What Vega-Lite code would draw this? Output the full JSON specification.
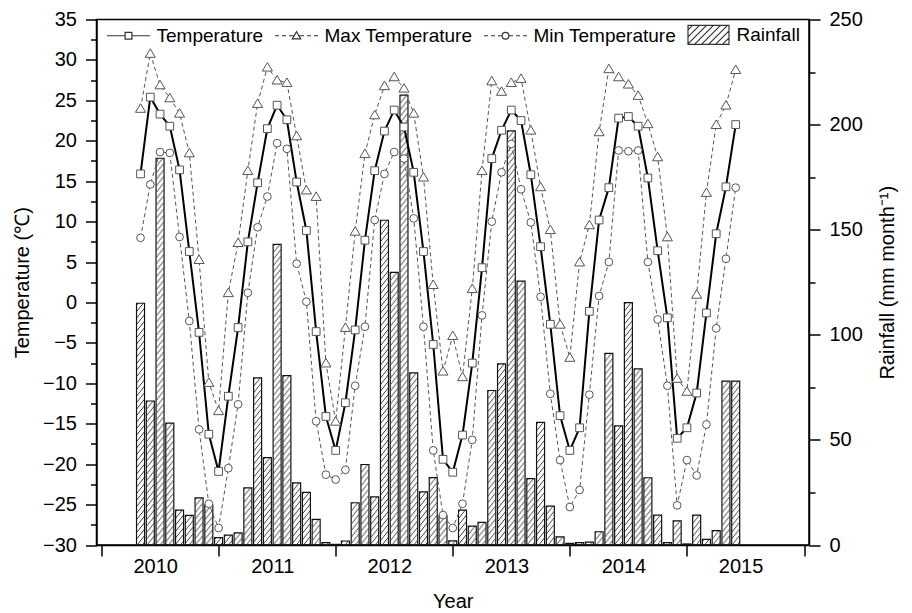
{
  "$schema": "https://vega.github.io/schema/vega-lite/v6.json",
  "width": 712.5,
  "height": 525.5,
  "autosize": "none",
  "padding": {"left": 96.5, "top": 19.5, "right": 103, "bottom": 68},
  "background": "white",
  "config": {
    "view": {"stroke": "#000", "strokeWidth": 1.5},
    "font": "Liberation Sans",
    "axis": {
      "domainColor": "#000", "domainWidth": 1.5,
      "tickColor": "#000", "tickWidth": 1.5,
      "labelFont": "Liberation Sans", "labelFontSize": 20, "labelColor": "#000",
      "titleFont": "Liberation Sans", "titleFontSize": 20, "titleFontWeight": "normal", "titleColor": "#000",
      "grid": false, "labelOverlap": false, "labelFlush": false, "labelBound": false
    }
  },
  "data": {"values": [
    {"m":4,"T":15.9,"Tmax":24.0,"Tmin":8.0,"R":115},
    {"m":5,"T":25.4,"Tmax":30.8,"Tmin":14.6,"R":68.5},
    {"m":6,"T":23.3,"Tmax":26.9,"Tmin":18.6,"R":184},
    {"m":7,"T":21.8,"Tmax":25.3,"Tmin":18.5,"R":58},
    {"m":8,"T":16.4,"Tmax":23.4,"Tmin":8.1,"R":16.6},
    {"m":9,"T":6.3,"Tmax":18.5,"Tmin":-2.3,"R":14.1},
    {"m":10,"T":-3.7,"Tmax":5.3,"Tmin":-15.7,"R":22.4},
    {"m":11,"T":-16.3,"Tmax":-9.9,"Tmin":-24.9,"R":19.0},
    {"m":12,"T":-20.9,"Tmax":-13.4,"Tmin":-27.9,"R":3.5},
    {"m":13,"T":-11.6,"Tmax":1.2,"Tmin":-20.5,"R":4.7},
    {"m":14,"T":-3.1,"Tmax":7.4,"Tmin":-12.6,"R":5.8},
    {"m":15,"T":7.5,"Tmax":16.3,"Tmin":1.2,"R":27.2},
    {"m":16,"T":14.8,"Tmax":24.6,"Tmin":9.3,"R":79.5},
    {"m":17,"T":21.5,"Tmax":29.1,"Tmin":13.1,"R":41.6},
    {"m":18,"T":24.4,"Tmax":27.5,"Tmin":19.7,"R":143},
    {"m":19,"T":22.6,"Tmax":27.2,"Tmin":19.0,"R":80.6},
    {"m":20,"T":14.9,"Tmax":20.6,"Tmin":4.8,"R":29.6},
    {"m":21,"T":8.9,"Tmax":13.9,"Tmin":0.1,"R":25.0},
    {"m":22,"T":-3.6,"Tmax":13.1,"Tmin":-14.7,"R":12.2},
    {"m":23,"T":-14.1,"Tmax":-7.5,"Tmin":-21.3,"R":1.1},
    {"m":24,"T":-18.3,"Tmax":-14.7,"Tmin":-21.9,"R":0.3},
    {"m":25,"T":-12.4,"Tmax":-3.1,"Tmin":-20.7,"R":1.9},
    {"m":26,"T":-3.4,"Tmax":8.8,"Tmin":-10.3,"R":20.1},
    {"m":27,"T":7.7,"Tmax":18.4,"Tmin":-3.0,"R":38.3},
    {"m":28,"T":16.3,"Tmax":23.2,"Tmin":10.2,"R":22.9},
    {"m":29,"T":21.2,"Tmax":26.8,"Tmin":15.9,"R":154.5},
    {"m":30,"T":23.8,"Tmax":27.9,"Tmin":18.6,"R":129.7},
    {"m":31,"T":21.7,"Tmax":26.5,"Tmin":17.8,"R":214},
    {"m":32,"T":16.1,"Tmax":23.4,"Tmin":10.4,"R":81.9},
    {"m":33,"T":6.3,"Tmax":15.5,"Tmin":-3.0,"R":25.3},
    {"m":34,"T":-5.2,"Tmax":2.2,"Tmin":-18.3,"R":32.1},
    {"m":35,"T":-19.4,"Tmax":-8.5,"Tmin":-26.3,"R":13.9},
    {"m":36,"T":-21.0,"Tmax":-4.1,"Tmin":-27.9,"R":2.0},
    {"m":37,"T":-16.4,"Tmax":-9.2,"Tmin":-24.9,"R":16.6},
    {"m":38,"T":-7.5,"Tmax":1.7,"Tmin":-17.0,"R":9.0},
    {"m":39,"T":4.3,"Tmax":16.3,"Tmin":-1.6,"R":10.8},
    {"m":40,"T":17.8,"Tmax":27.4,"Tmin":10.0,"R":73.5},
    {"m":41,"T":21.3,"Tmax":26.1,"Tmin":16.1,"R":86.2},
    {"m":42,"T":23.8,"Tmax":27.2,"Tmin":19.6,"R":197},
    {"m":43,"T":22.5,"Tmax":27.7,"Tmin":14.0,"R":125.5},
    {"m":44,"T":15.8,"Tmax":21.3,"Tmin":9.9,"R":31.6},
    {"m":45,"T":6.9,"Tmax":14.3,"Tmin":0.7,"R":58.3},
    {"m":46,"T":-2.7,"Tmax":9.0,"Tmin":-11.3,"R":18.5},
    {"m":47,"T":-14.0,"Tmax":-2.7,"Tmin":-19.5,"R":3.9},
    {"m":48,"T":-18.3,"Tmax":-6.8,"Tmin":-25.3,"R":0.8},
    {"m":49,"T":-15.5,"Tmax":5.0,"Tmin":-23.2,"R":1.1},
    {"m":50,"T":-1.1,"Tmax":9.6,"Tmin":-11.4,"R":1.4},
    {"m":51,"T":10.2,"Tmax":21.1,"Tmin":0.8,"R":6.3},
    {"m":52,"T":14.2,"Tmax":28.9,"Tmin":5.0,"R":91.2},
    {"m":53,"T":22.8,"Tmax":27.9,"Tmin":18.8,"R":56.7},
    {"m":54,"T":23.0,"Tmax":27.0,"Tmin":18.7,"R":115.3},
    {"m":55,"T":21.8,"Tmax":25.6,"Tmin":18.8,"R":83.8},
    {"m":56,"T":15.4,"Tmax":22.1,"Tmin":5.0,"R":32},
    {"m":57,"T":6.4,"Tmax":18.0,"Tmin":-2.1,"R":14.2},
    {"m":58,"T":-1.9,"Tmax":8.1,"Tmin":-10.3,"R":1.1},
    {"m":59,"T":-16.8,"Tmax":-9.4,"Tmin":-25.1,"R":11.5},
    {"m":60,"T":-15.5,"Tmax":-11.0,"Tmin":-19.5,"R":0.5},
    {"m":61,"T":-11.2,"Tmax":1.0,"Tmin":-21.4,"R":14.2},
    {"m":62,"T":-1.3,"Tmax":13.6,"Tmin":-15.1,"R":2.7},
    {"m":63,"T":8.5,"Tmax":22.0,"Tmin":-3.2,"R":6.8},
    {"m":64,"T":14.3,"Tmax":24.4,"Tmin":5.4,"R":78},
    {"m":65,"T":22.0,"Tmax":28.8,"Tmin":14.2,"R":78}
  ]},
  "encoding": {
    "x": {
      "field": "m", "type": "quantitative",
      "scale": {"domain": [0, 72], "nice": false, "zero": false},
      "axis": {
        "title": "Year",
        "values": [0, 5.5, 12, 17.5, 24, 29.5, 36, 41.5, 48, 53.5, 60, 65.5, 72],
        "labelExpr": "datum.value % 12 == 5.5 ? toString(2010 + floor(datum.value / 12)) : ''",
        "tickOpacity": {"condition": {"test": "datum.value % 12 == 0", "value": 1}, "value": 0},
        "tickSize": 11,
        "labelPadding": 0,
        "titleX": 356.25, "titleY": 56, "titleBaseline": "middle", "titleAlign": "center"
      }
    }
  },
  "layer": [
    {
      "encoding": {
        "y": {
          "field": "R", "type": "quantitative",
          "scale": {"domain": [0, 250], "nice": false},
          "axis": {
            "orient": "right",
            "title": "Rainfall (mm month⁻¹)",
            "values": [0, 25, 50, 75, 100, 125, 150, 175, 200, 225, 250],
            "labelExpr": "datum.value % 50 == 0 ? datum.label : ''",
            "tickSize": {"condition": {"test": "datum.value % 50 != 0", "value": 6}, "value": 11},
            "labelPadding": 9,
            "titleAngle": -90, "titleX": 78, "titleY": 262.75, "titleAlign": "center", "titleBaseline": "middle"
          }
        }
      },
      "layer": [
        {"mark": {"type": "rule", "xOffset": -3, "strokeWidth": 1, "strokeDash": [1.3, 5.2], "strokeDashOffset": 0, "color": "#444"}, "encoding": {"y2": {"datum": 0}}},
        {"mark": {"type": "rule", "xOffset": -2, "strokeWidth": 1, "strokeDash": [1.3, 5.2], "strokeDashOffset": 1.25, "color": "#444"}, "encoding": {"y2": {"datum": 0}}},
        {"mark": {"type": "rule", "xOffset": -1, "strokeWidth": 1, "strokeDash": [1.3, 5.2], "strokeDashOffset": 2.5, "color": "#444"}, "encoding": {"y2": {"datum": 0}}},
        {"mark": {"type": "rule", "xOffset": 0, "strokeWidth": 1, "strokeDash": [1.3, 5.2], "strokeDashOffset": 3.75, "color": "#444"}, "encoding": {"y2": {"datum": 0}}},
        {"mark": {"type": "rule", "xOffset": 1, "strokeWidth": 1, "strokeDash": [1.3, 5.2], "strokeDashOffset": 5, "color": "#444"}, "encoding": {"y2": {"datum": 0}}},
        {"mark": {"type": "rule", "xOffset": 2, "strokeWidth": 1, "strokeDash": [1.3, 5.2], "strokeDashOffset": 6.25, "color": "#444"}, "encoding": {"y2": {"datum": 0}}},
        {"mark": {"type": "rule", "xOffset": 3, "strokeWidth": 1, "strokeDash": [1.3, 5.2], "strokeDashOffset": 7.5, "color": "#444"}, "encoding": {"y2": {"datum": 0}}},
        {"mark": {"type": "bar", "size": 8, "fillOpacity": 0, "stroke": "#111", "strokeWidth": 1.2}}
      ]
    },
    {
      "transform": [{"fold": ["T", "Tmax", "Tmin"], "as": ["series", "value"]}],
      "encoding": {
        "y": {
          "field": "value", "type": "quantitative",
          "scale": {"domain": [-30, 35], "nice": false, "zero": false},
          "axis": {
            "orient": "left",
            "title": "Temperature (℃)",
            "values": [-30, -27.5, -25, -22.5, -20, -17.5, -15, -12.5, -10, -7.5, -5, -2.5, 0, 2.5, 5, 7.5, 10, 12.5, 15, 17.5, 20, 22.5, 25, 27.5, 30, 32.5, 35],
            "labelExpr": "datum.value % 5 == 0 ? datum.label : ''",
            "tickSize": {"condition": {"test": "datum.value % 5 != 0", "value": 6}, "value": 11},
            "labelPadding": 9,
            "titleAngle": -90, "titleX": -74, "titleY": 262.75, "titleAlign": "center", "titleBaseline": "middle"
          }
        }
      },
      "layer": [
        {
          "transform": [{"filter": "datum.series != 'T'"}],
          "mark": {"type": "line", "color": "#555", "strokeWidth": 1, "strokeDash": [4, 3]},
          "encoding": {"detail": {"field": "series", "type": "nominal"}}
        },
        {
          "transform": [{"filter": "datum.series == 'T'"}],
          "mark": {"type": "line", "color": "#000", "strokeWidth": 2}
        },
        {
          "mark": {"type": "point", "filled": true, "fill": "white", "stroke": "#555", "strokeWidth": 1, "opacity": 1, "size": 60},
          "encoding": {
            "shape": {"field": "series", "type": "nominal", "scale": {"domain": ["T", "Tmax", "Tmin"], "range": ["square", "M0 -1.2L1.3 1L-1.3 1Z", "circle"]}, "legend": null}
          }
        },
        {
          "transform": [{"filter": "datum.m < 0"}],
          "mark": {"type": "point", "filled": false, "color": "#333", "strokeWidth": 1.2, "opacity": 1, "size": 64},
          "encoding": {
            "shape": {
              "field": "series", "type": "nominal",
              "scale": {
                "domain": ["Temperature", "Max Temperature", "Min Temperature", "Rainfall"],
                "range": [
                  "M-2.25 0L2.275 0M3.975 0L8.5 0M2.275 -0.85L3.975 -0.85L3.975 0.85L2.275 0.85Z",
                  "M-2.25 0L-1.25 0M-0.5 0L0.5 0M1.25 0L2.4 0M3.85 0L5 0M5.75 0L6.75 0M7.5 0L8.5 0M3.125 -1L4.175 0.8L2.075 0.8Z",
                  "M-2.25 0L-1.25 0M-0.5 0L0.5 0M1.25 0L2.275 0M3.975 0L5 0M5.75 0L6.75 0M7.5 0L8.5 0M2.275 0A0.85 0.85 0 1 0 3.975 0A0.85 0.85 0 1 0 2.275 0Z",
                  "M-2 -2.375L8.25 -2.375L8.25 2.375L-2 2.375ZM-2 -1.25L-0.875 -2.375M-2 0.5L0.875 -2.375M-2 2.25L2.625 -2.375M-0.375 2.375L4.375 -2.375M1.375 2.375L6.125 -2.375M3.125 2.375L7.875 -2.375M4.875 2.375L8.25 -1M6.625 2.375L8.25 0.75"
                ]
              },
              "legend": {
                "orient": "none", "legendX": 10.5, "legendY": 5.5,
                "direction": "horizontal", "columns": 4, "title": null,
                "symbolSize": 64, "symbolStrokeWidth": 1.2, "symbolOffset": -0.5,
                "symbolStrokeColor": "#333", "symbolOpacity": 1,
                "labelFont": "Liberation Sans", "labelFontSize": 19, "labelColor": "#000",
                "labelOffset": 31, "labelLimit": 300, "columnPadding": 8, "padding": 0
              }
            }
          }
        }
      ],
      "resolve": {"scale": {"shape": "independent"}}
    }
  ],
  "resolve": {"scale": {"y": "independent"}}
}
